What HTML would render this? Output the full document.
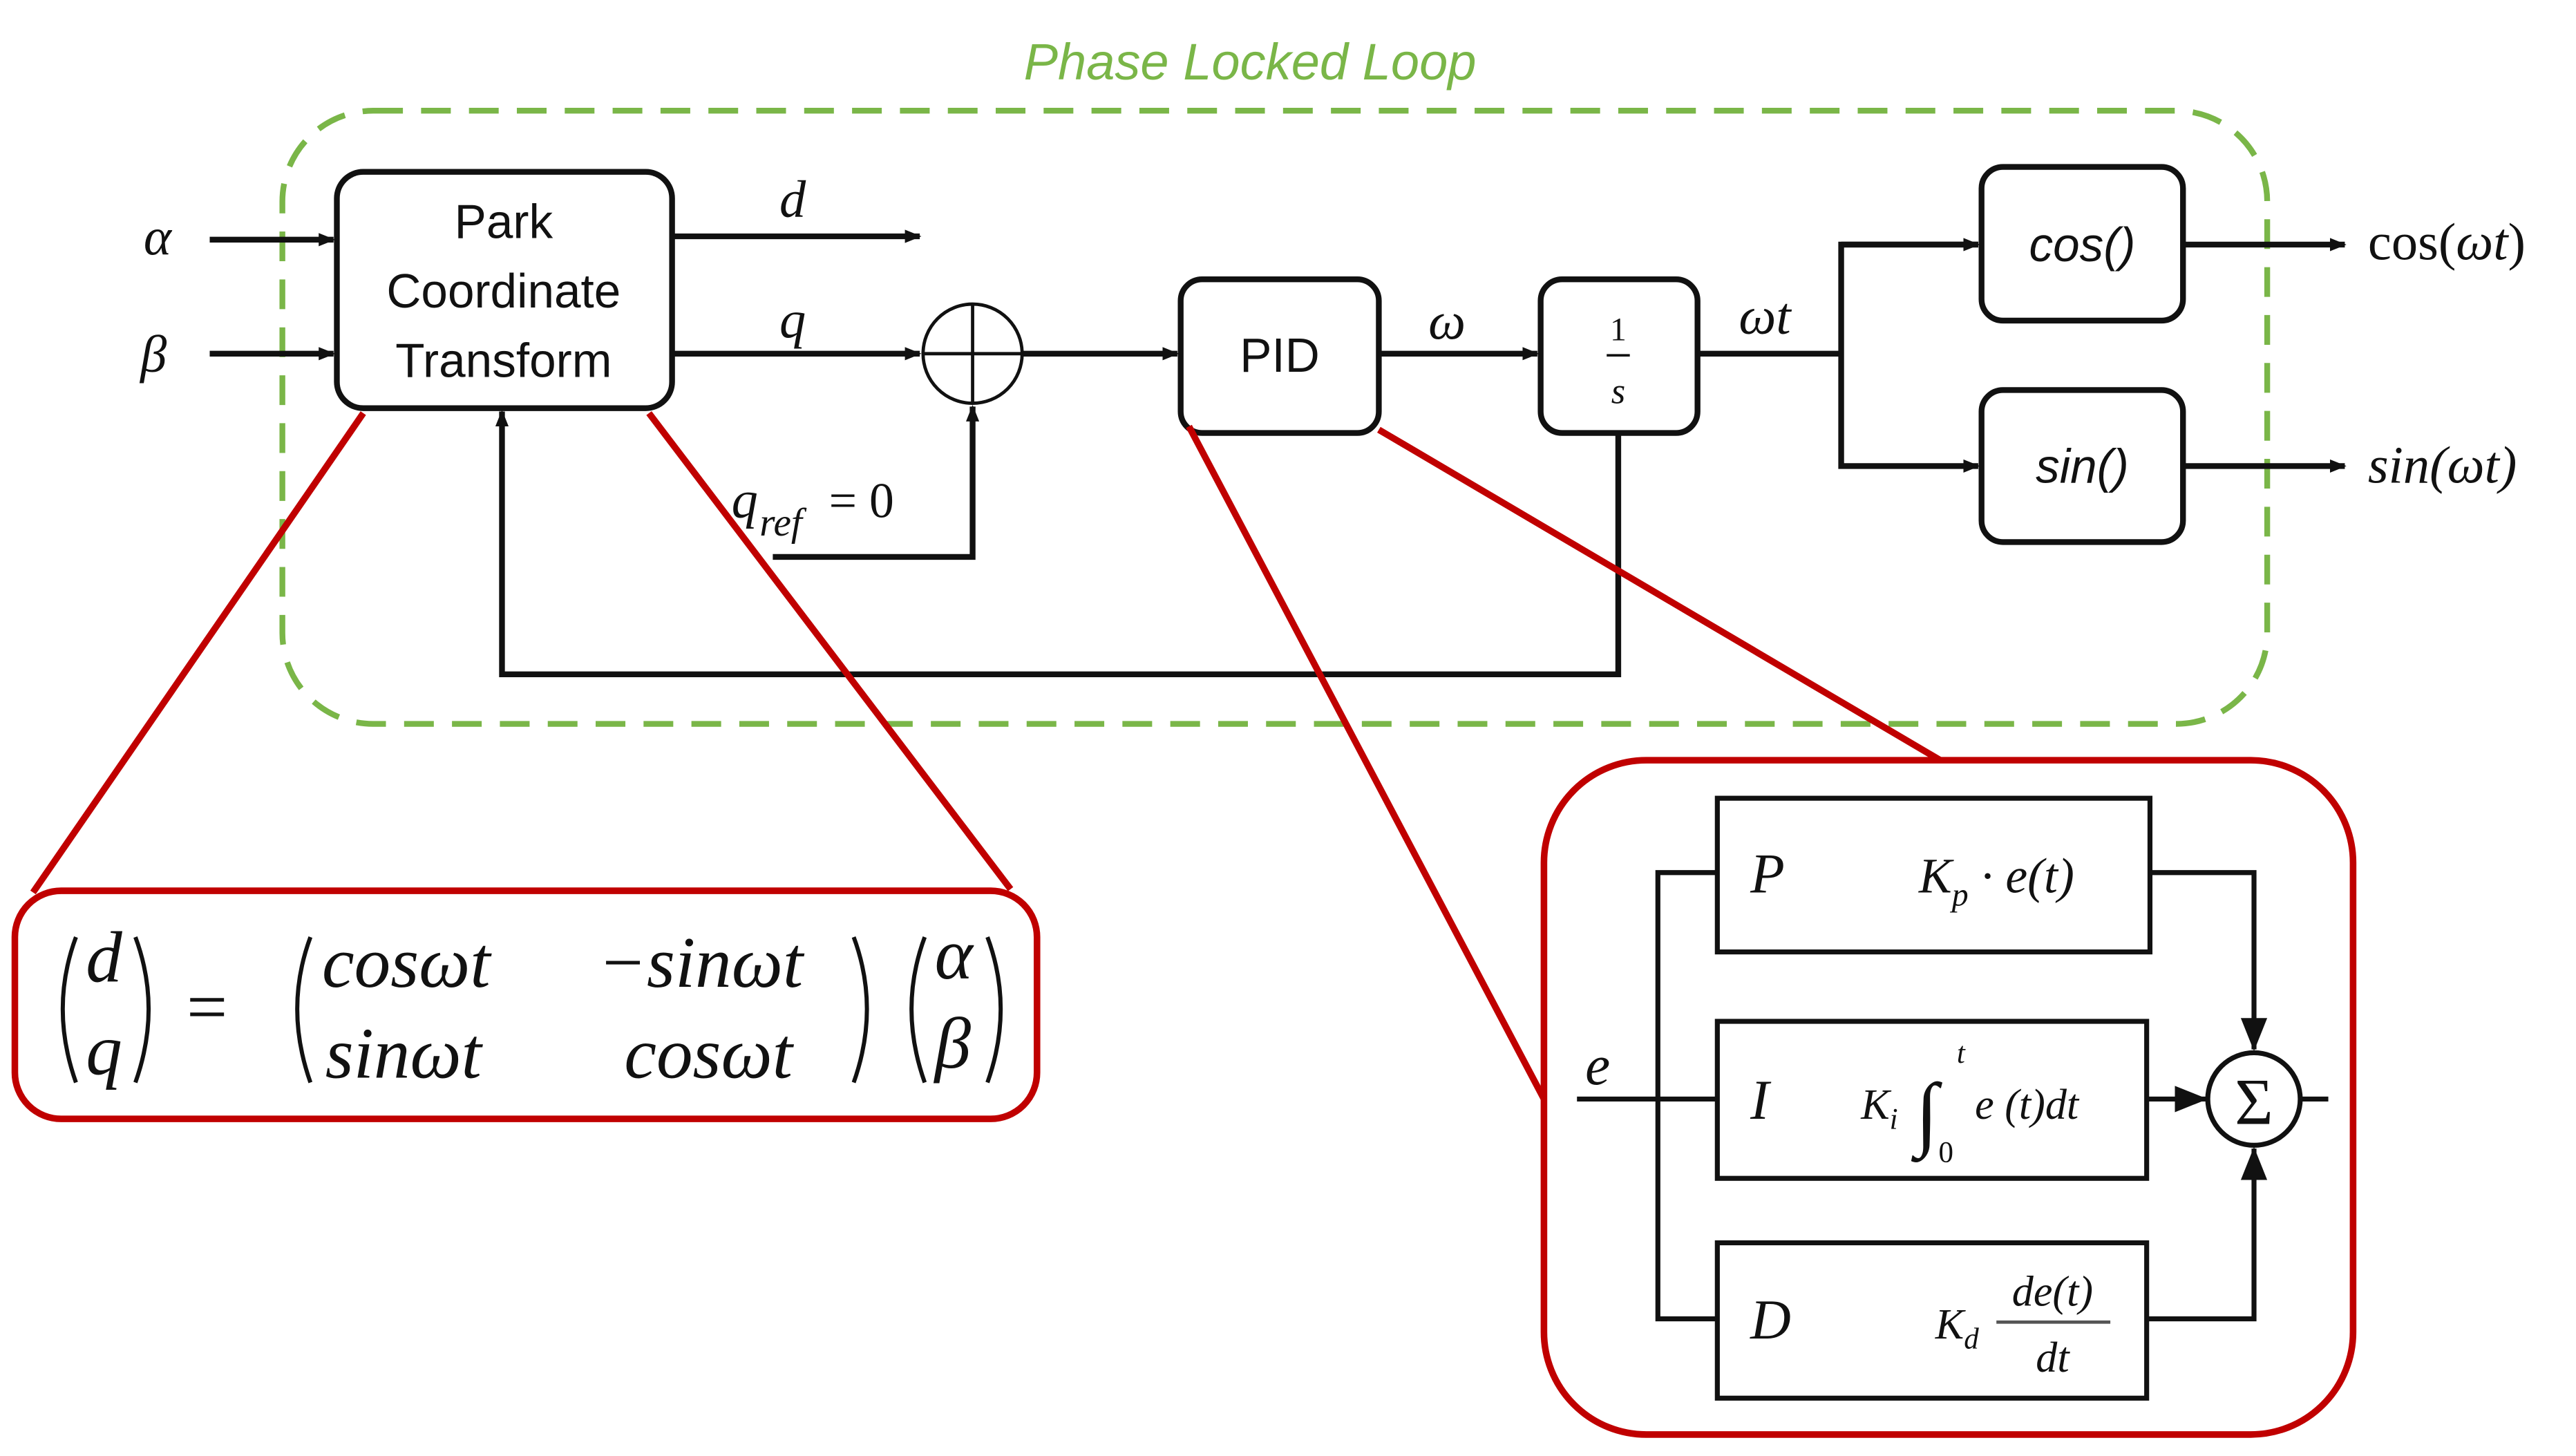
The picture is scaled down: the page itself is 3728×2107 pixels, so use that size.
<!DOCTYPE html>
<html><head><meta charset="utf-8"><style>
html,body{margin:0;padding:0;background:#fff;}
svg{display:block;}
text{font-family:"Liberation Serif","DejaVu Serif",serif;fill:#111;}
.s{font-family:"Liberation Sans","DejaVu Sans",sans-serif;}
</style></head><body>
<svg width="3728" height="2107" viewBox="0 0 1560 881" preserveAspectRatio="none" xmlns="http://www.w3.org/2000/svg">
<defs>
<marker id="a" markerWidth="10" markerHeight="10" refX="9" refY="5" orient="auto" markerUnits="userSpaceOnUse"><path d="M0,1 L10,5 L0,9 Z" fill="#111"/></marker>
<marker id="b" markerWidth="20" markerHeight="20" refX="19" refY="10" orient="auto" markerUnits="userSpaceOnUse"><path d="M0,2 L20,10 L0,18 Z" fill="#111"/></marker>
</defs>
<text x="757" y="48" text-anchor="middle" font-size="31" font-style="italic" style="fill:#7ab648" class="s">Phase Locked Loop</text>
<rect x="171" y="67" width="1202" height="371" rx="55" fill="none" stroke="#7ab648" stroke-width="3.5" stroke-dasharray="18,11"/>

<g stroke="#111" stroke-width="3.5" fill="none">
<rect x="204" y="104" width="203" height="143" rx="16"/>
<rect x="715" y="169" width="120" height="93" rx="13"/>
<rect x="933" y="169" width="95" height="93" rx="13"/>
<rect x="1200" y="101" width="122" height="93" rx="13"/>
<rect x="1200" y="236" width="122" height="92" rx="13"/>
<line x1="127" y1="145" x2="202" y2="145" marker-end="url(#a)"/>
<line x1="127" y1="214" x2="202" y2="214" marker-end="url(#a)"/>
<line x1="407" y1="143" x2="557" y2="143" marker-end="url(#a)"/>
<line x1="407" y1="214" x2="557" y2="214" marker-end="url(#a)"/>
<line x1="619" y1="214" x2="713" y2="214" marker-end="url(#a)"/>
<line x1="835" y1="214" x2="931" y2="214" marker-end="url(#a)"/>
<polyline points="1028,214 1115,214"/>
<polyline points="1198,148 1115,148 1115,282 1198,282" marker-end="url(#a)"/>
<line x1="1115" y1="148" x2="1198" y2="148" marker-end="url(#a)"/>
<line x1="1322" y1="148" x2="1420" y2="148" marker-end="url(#a)"/>
<line x1="1322" y1="282" x2="1420" y2="282" marker-end="url(#a)"/>
<polyline points="980,262 980,408 304,408 304,249" marker-end="url(#a)"/>
<polyline points="468,337 589,337 589,246" marker-end="url(#a)"/>
</g>
<circle cx="589" cy="214" r="30" fill="none" stroke="#111" stroke-width="2"/>
<line x1="559" y1="214" x2="619" y2="214" stroke="#111" stroke-width="2"/>
<line x1="589" y1="184" x2="589" y2="244" stroke="#111" stroke-width="2"/>
<line x1="973" y1="215" x2="987" y2="215" stroke="#111" stroke-width="1.5"/>

<g class="s" font-size="29" text-anchor="middle">
<text class="s" x="305" y="144">Park</text>
<text class="s" x="305" y="186">Coordinate</text>
<text class="s" x="305" y="228">Transform</text>
<text class="s" x="775" y="225">PID</text>
<text class="s" x="1261" y="158" font-style="italic">cos()</text>
<text class="s" x="1261" y="292" font-style="italic">sin()</text>
</g>
<text x="980" y="206" font-size="20" text-anchor="middle">1</text>
<text x="980" y="244" font-size="22" font-style="italic" text-anchor="middle">s</text>
<g font-size="32" font-style="italic">
<text x="87" y="154">α</text>
<text x="85" y="225">β</text>
<text x="472" y="131">d</text>
<text x="472" y="204">q</text>
<text x="865" y="205">ω</text>
<text x="1053" y="202">ωt</text>
<text x="443" y="313">q</text>
<text x="460" y="324" font-size="24">ref</text>
<text x="1434" y="292">sin(ωt)</text>
</g>
<text x="502" y="313" font-size="30">= 0</text>
<text x="1434" y="157" font-size="32">cos(<tspan font-style="italic">ωt</tspan>)</text>

<g stroke="#c00000" stroke-width="4" fill="none">
<line x1="220" y1="250" x2="20" y2="540"/>
<line x1="393" y1="250" x2="612" y2="538"/>
<line x1="720" y1="258" x2="935" y2="665"/>
<line x1="835" y1="260" x2="1175" y2="460"/>
<rect x="9" y="539" width="619" height="138" rx="28" fill="#fff"/>
<rect x="935" y="460" width="490" height="408" rx="62" fill="#fff"/>
</g>

<g stroke="#111" stroke-width="2.5" fill="none">
<path d="M46,567 Q30,610 46,655"/>
<path d="M82,567 Q98,610 82,655"/>
<path d="M188,567 Q172,610 188,655"/>
<path d="M517,567 Q533,610 517,655"/>
<path d="M560,567 Q544,610 560,655"/>
<path d="M598,567 Q614,610 598,655"/>
</g>
<g font-style="italic" font-size="44">
<text x="52" y="594">d</text>
<text x="52" y="650">q</text>
<text x="113" y="624" font-style="normal">=</text>
<text x="195" y="597">cosωt</text>
<text x="362" y="597">−sinωt</text>
<text x="197" y="652">sinωt</text>
<text x="378" y="652">cosωt</text>
<text x="566" y="592">α</text>
<text x="566" y="646">β</text>
</g>

<g stroke="#111" stroke-width="3" fill="none">
<rect x="1040" y="483" width="262" height="93"/>
<rect x="1040" y="618" width="260" height="95"/>
<rect x="1040" y="752" width="260" height="94"/>
<line x1="955" y1="665" x2="1040" y2="665"/>
<polyline points="1040,528 1004,528 1004,798 1040,798"/>
<polyline points="1302,528 1365,528 1365,635" marker-end="url(#b)"/>
<polyline points="1300,798 1365,798 1365,695" marker-end="url(#b)"/>
<line x1="1300" y1="665" x2="1336" y2="665" marker-end="url(#b)"/>
<line x1="1393" y1="665" x2="1410" y2="665"/>
<circle cx="1365" cy="665" r="28"/>
</g>
<text x="1365" y="680" font-size="40" text-anchor="middle">Σ</text>
<g font-style="italic" font-size="34">
<text x="960" y="656">e</text>
<text x="1060" y="540">P</text>
<text x="1060" y="677">I</text>
<text x="1060" y="810">D</text>
<text x="1162" y="540" font-size="30">K<tspan font-size="20" dy="8">p</tspan><tspan dy="-8"> · e(t)</tspan></text>
<text x="1127" y="677" font-size="26">K<tspan font-size="18" dy="6">i</tspan></text>
<text x="1160" y="690" font-size="50" font-style="normal">∫</text>
<text x="1185" y="643" font-size="18">t</text>
<text x="1174" y="703" font-size="18" font-style="normal">0</text>
<text x="1196" y="677" font-size="26">e (t)dt</text>
<text x="1172" y="810" font-size="26">K<tspan font-size="18" dy="6">d</tspan></text>
<text x="1243" y="790" font-size="26" text-anchor="middle">de(t)</text>
<text x="1243" y="830" font-size="26" text-anchor="middle">dt</text>
</g>
<line x1="1209" y1="800" x2="1278" y2="800" stroke="#555" stroke-width="2"/>
</svg>
</body></html>
